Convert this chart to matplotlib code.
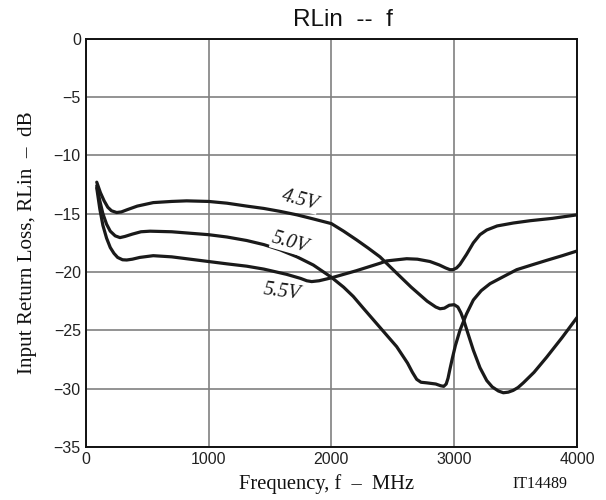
import matplotlib
matplotlib.use("Agg")
import matplotlib.pyplot as plt

# ---- data ----
f_45 = [90, 120, 150, 180, 210, 252, 290, 340, 420, 550, 700, 822, 1000, 1150, 1311, 1450, 1582,
        1720, 1853, 2000, 2100, 2206, 2300, 2396, 2532, 2650, 2780, 2850, 2885, 2920, 2960, 3000,
        3030, 3055, 3080, 3110, 3156, 3210, 3265, 3310, 3360, 3400, 3440, 3480, 3520, 3563, 3650,
        3753, 3880, 4000]
rl_45 = [-12.3, -13.2, -13.9, -14.45, -14.75, -14.9, -14.85, -14.65, -14.35, -14.05, -13.95, -13.9,
         -13.95, -14.1, -14.35, -14.55, -14.8, -15.1, -15.45, -15.85, -16.5, -17.25, -17.95, -18.7,
         -20.1, -21.3, -22.5, -23.0, -23.15, -23.1, -22.85, -22.8, -23.0, -23.5, -24.2, -25.2,
         -26.7, -28.2, -29.3, -29.85, -30.2, -30.35, -30.3, -30.15, -29.9, -29.5, -28.6, -27.3,
         -25.6, -23.9]

f_50 = [90, 115, 140, 170, 200, 240, 279, 320, 380, 450, 524, 700, 1000, 1150, 1311, 1450, 1582,
        1720, 1853, 2000, 2100, 2179, 2260, 2400, 2532, 2620, 2660, 2695, 2730, 2776, 2850, 2890,
        2915, 2935, 2950, 2966, 2985, 3010, 3047, 3100, 3156, 3220, 3292, 3400, 3509, 3630, 3753,
        3880, 4000]
rl_50 = [-12.6, -13.9, -15.0, -15.9, -16.5, -16.9, -17.05, -16.95, -16.75, -16.55, -16.5, -16.55,
         -16.8, -17.0, -17.3, -17.65, -18.1, -18.7, -19.4, -20.45, -21.3, -22.1, -23.1, -24.8,
         -26.4, -27.8, -28.6, -29.2, -29.45, -29.5, -29.6, -29.75, -29.8, -29.6, -29.1, -28.3,
         -27.4, -26.3, -25.0, -23.6, -22.4, -21.6, -21.0, -20.4, -19.8, -19.4, -19.0, -18.6, -18.2]

f_55 = [90, 115, 140, 170, 200, 230, 260, 300, 334, 380, 440, 550, 700, 1000, 1150, 1311, 1450,
        1636, 1750, 1800, 1840, 1900, 2000, 2200, 2396, 2450, 2613, 2700, 2803, 2880, 2930, 2966,
        2990, 3020, 3047, 3100, 3156, 3210, 3265, 3350, 3481, 3620, 3800, 4000]
rl_55 = [-12.8, -14.6, -16.0, -17.1, -17.9, -18.4, -18.75, -18.95, -18.97, -18.9, -18.75, -18.6,
         -18.7, -19.1, -19.3, -19.5, -19.75, -20.2, -20.55, -20.75, -20.82, -20.75, -20.5, -19.9,
         -19.25, -19.05, -18.86, -18.9, -19.1, -19.4, -19.65, -19.8, -19.8, -19.65, -19.35, -18.5,
         -17.5, -16.8, -16.4, -16.05, -15.8, -15.6, -15.4, -15.1]

x_ticks = [0, 1000, 2000, 3000, 4000]
y_ticks = [0, -5, -10, -15, -20, -25, -30, -35]
y_tick_labels = ["0", "\u22125", "\u221210", "\u221215", "\u221220", "\u221225", "\u221230", "\u221235"]

curve_labels = ["4.5V", "5.0V", "5.5V"]
label_pos = [(1745, -13.85), (1663, -17.5), (1598, -21.7)]
label_rot = [-15, -16, -8]

# ---- figure ----
fig = plt.figure(figsize=(6.06, 5.0), dpi=100)
ax = fig.add_axes([85.7 / 606, 1 - 447 / 500, (577 - 85.7) / 606, (447 - 38.7) / 500])

ax.set_xlim(0, 4000)
ax.set_ylim(-35, 0)
ax.set_xticks(x_ticks)
ax.set_yticks(y_ticks)
ax.set_yticklabels(y_tick_labels)
ax.grid(True, color="#808080", linewidth=1.2)
ax.set_axisbelow(True)
ax.tick_params(length=0, labelsize=11.5, colors="#222222", pad=3.5)
for lab in ax.get_xticklabels() + ax.get_yticklabels():
    lab.set_family("Liberation Sans")
for sp in ax.spines.values():
    sp.set_linewidth(1.4)
    sp.set_color("#111111")

line_kw = dict(color="#1a1a1a", linewidth=2.3, solid_joinstyle="round", solid_capstyle="round")
ax.plot(f_45, rl_45, **line_kw)
ax.plot(f_50, rl_50, **line_kw)
ax.plot(f_55, rl_55, **line_kw)

for txt, (px, py), rot in zip(curve_labels, label_pos, label_rot):
    ax.text(px, py, txt, rotation=rot, ha="center", va="center", fontsize=14.5,
            family="Liberation Serif", style="italic", color="#1a1a1a",
            bbox=dict(facecolor="white", edgecolor="none", pad=0.3))

fig.text(343 / 606, 1 - 20 / 500, "RLin  --  f", ha="center", va="center",
         fontsize=17.5, family="Liberation Sans", color="#111111")
fig.text(28 / 606, 1 - 243 / 500, "Input Return Loss, RLin  \u2013  dB", rotation=90,
         ha="center", va="center", fontsize=15.2, family="Liberation Serif", color="#111111")
fig.text(327 / 606, 1 - 484 / 500, "Frequency, f  \u2013  MHz", ha="center", va="center",
         fontsize=14.8, family="Liberation Serif", color="#111111")
fig.text(540 / 606, 1 - 484 / 500, "IT14489", ha="center", va="center",
         fontsize=11.5, family="Liberation Serif", color="#111111")

fig.savefig("out.png", dpi=100)
